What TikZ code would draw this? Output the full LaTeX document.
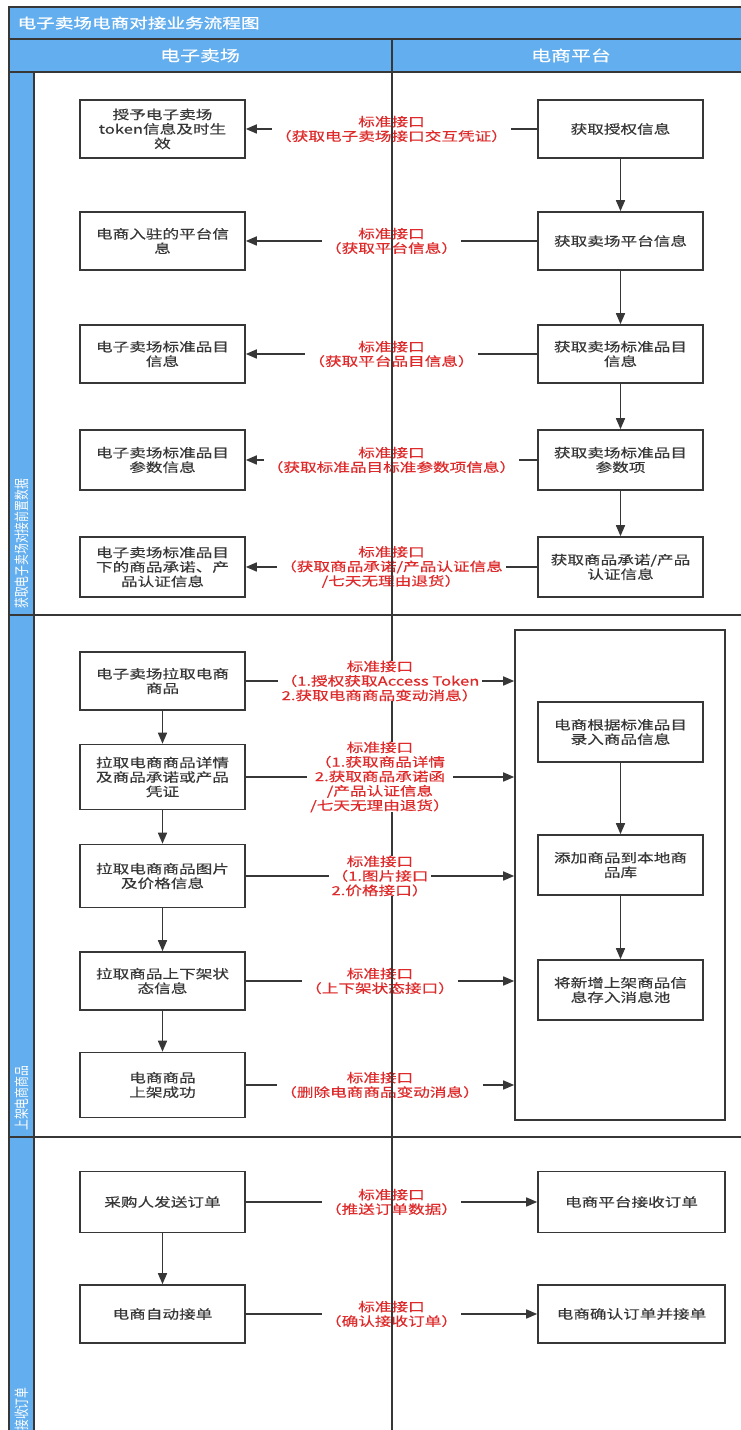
\documentclass[tikz,border=0pt]{standalone}
\usepackage{fontspec}
\setmainfont[FakeStretch=1.33,FakeBold=0.35]{Noto Sans CJK SC}
\newfontfamily\titlefont[FakeStretch=1.33,FakeBold=1.2]{Noto Sans CJK SC}
\newfontfamily\lanefont[FakeStretch=0.72]{Noto Sans CJK SC}
\usetikzlibrary{arrows.meta}
\definecolor{laneblue}{RGB}{98,174,238}
\definecolor{ifred}{RGB}{222,42,42}
\definecolor{inkgray}{RGB}{55,55,55}
\tikzset{
  frame/.style={
    draw=inkgray,
    line width=1.6pt
  },
  lane label/.style={
    rotate=90,
    anchor=west,
    inner sep=0pt,
    text=white,
    font=\lanefont\fontsize{15}{15}\selectfont
  },
}
\tikzstyle{block} = [rectangle, draw=inkgray, line width=1.6pt, minimum width=165pt, minimum height=58pt, align=center, text=inkgray, inner sep=2pt, font=\fontsize{12.5}{14.5}\selectfont]
\tikzstyle{pool} = [rectangle, draw=inkgray, line width=1.6pt, minimum width=210pt, minimum height=490pt]
\tikzstyle{iface} = [fill=white, text=ifred, align=center, inner xsep=3pt, inner ysep=0pt, font=\fontsize{12.5}{14.5}\selectfont]
\tikzstyle{arrow} = [draw=inkgray, line width=1.6pt, ->, >={Triangle[length=11pt,width=9pt]}]

\begin{document}
\begin{tikzpicture}[x=1pt, y=1pt, node distance=112pt]
        \useasboundingbox (0,0) rectangle (741,1430);
        % frame
        \fill [laneblue] (9,1423) rectangle (752,1358);
        \fill [laneblue] (9,1358) rectangle (34,-2);
        \draw [frame] (9,1423) rectangle (752,1391);
        \draw [frame] (9,1391) rectangle (752,1358);
        \draw [frame] (9,1358) -- (9,-2);
        \draw [frame] (34,1358) -- (34,-2);
        \draw [frame] (9,815) -- (752,815);
        \draw [frame] (9,293) -- (752,293);
        \draw [frame] (392,1391) -- (392,-2);

        % headers
        \node [anchor=west, text=white, font=\titlefont\fontsize{14}{14}\selectfont] (title) at (14,1407) {电子卖场电商对接业务流程图};
        \node [text=white, font=\fontsize{15}{15}\selectfont] (market) at (200,1374.5) {电子卖场};
        \node [text=white, font=\fontsize{15}{15}\selectfont] (platform) at (571,1374.5) {电商平台};
        \node [lane label] (prep) at (21.5,821) {获取电子卖场对接前置数据};
        \node [lane label] (listing) at (21.5,299) {上架电商商品};
        \node [lane label] (orders) at (21.5,-1) {接收订单};

        % lane 1 blocks
        \node [block] (grant) at (162.5,1301) {授予电子卖场\\token信息及时生\\效};
        \node [block, below of=grant] (joininfo) {电商入驻的平台信\\息};
        \node [block, below of=joininfo, yshift=-1pt] (catinfo) {电子卖场标准品目\\信息};
        \node [block, below of=catinfo, yshift=6pt, minimum height=60pt] (paraminfo) {电子卖场标准品目\\参数信息};
        \node [block, below of=paraminfo, yshift=5pt, minimum height=60pt] (certinfo) {电子卖场标准品目\\下的商品承诺、产\\品认证信息};
        \node [block] (getauth) at (620.5,1301) {获取授权信息};
        \node [block, below of=getauth] (getplat) {获取卖场平台信息};
        \node [block, below of=getplat, yshift=-1pt] (getcat) {获取卖场标准品目\\信息};
        \node [block, below of=getcat, yshift=6pt, minimum height=60pt] (getparam) {获取卖场标准品目\\参数项};
        \node [block, below of=getparam, yshift=5pt, minimum height=60pt] (getcert) {获取商品承诺/产品\\认证信息};

        % lane 2 blocks
        \node [block] (pull) at (162.5,749) {电子卖场拉取电商\\商品};
        \node [block, below of=pull, yshift=16pt, minimum height=65pt] (detail) {拉取电商商品详情\\及商品承诺或产品\\凭证};
        \node [block, below of=detail, yshift=13pt, minimum height=63pt] (picture) {拉取电商商品图片\\及价格信息};
        \node [block, below of=picture, yshift=7pt] (shelf) {拉取商品上下架状\\态信息};
        \node [block, below of=shelf, yshift=8pt, minimum height=65pt] (online) {电商商品\\上架成功};
        \node [pool] (store) at (620,555) {};
        \node [block, minimum height=60pt] (entry) at (620.5,698) {电商根据标准品目\\录入商品信息};
        \node [block, below of=entry, yshift=-21pt, minimum height=60pt] (addlocal) {添加商品到本地商\\品库};
        \node [block, below of=addlocal, yshift=-13pt, minimum height=60pt] (msgpool) {将新增上架商品信\\息存入消息池};

        % lane 3 blocks
        \node [block, minimum height=61pt] (send) at (162.5,228) {采购人发送订单};
        \node [block, below of=send, minimum height=58pt] (autoaccept) {电商自动接单};
        \node [block, minimum width=187pt, minimum height=61pt] (receive) at (631.5,228) {电商平台接收订单};
        \node [block, below of=receive, minimum width=187pt, minimum height=58pt] (confirm) {电商确认订单并接单};

        % arrows
        \draw [arrow] (getauth) -- node [iface] (if1) {标准接口\\（获取电子卖场接口交互凭证）} (grant);
        \draw [arrow] (getplat) -- node [iface] (if2) {标准接口\\（获取平台信息）} (joininfo);
        \draw [arrow] (getcat) -- node [iface] (if3) {标准接口\\（获取平台品目信息）} (catinfo);
        \draw [arrow] (getparam) -- node [iface] (if4) {标准接口\\（获取标准品目标准参数项信息）} (paraminfo);
        \draw [arrow] (getcert) -- node [iface] (if5) {标准接口\\（获取商品承诺/产品认证信息\\/七天无理由退货）} (certinfo);
        \draw [arrow] (getauth) -- (getplat);
        \draw [arrow] (getplat) -- (getcat);
        \draw [arrow] (getcat) -- (getparam);
        \draw [arrow] (getparam) -- (getcert);

        \draw [arrow] (pull) -- node [iface] (if6) {标准接口\\（1.授权获取Access Token\\2.获取电商商品变动消息）} (pull -| store.west);
        \draw [arrow] (detail) -- node [iface] (if7) {标准接口\\（1.获取商品详情\\2.获取商品承诺函\\/产品认证信息\\/七天无理由退货）} (detail -| store.west);
        \draw [arrow] (picture) -- node [iface] (if8) {标准接口\\（1.图片接口\\2.价格接口）} (picture -| store.west);
        \draw [arrow] (shelf) -- node [iface] (if9) {标准接口\\（上下架状态接口）} (shelf -| store.west);
        \draw [arrow] (online) -- node [iface] (if10) {标准接口\\（删除电商商品变动消息）} (online -| store.west);
        \draw [arrow] (pull) -- (detail);
        \draw [arrow] (detail) -- (picture);
        \draw [arrow] (picture) -- (shelf);
        \draw [arrow] (shelf) -- (online);
        \draw [arrow] (entry) -- (addlocal);
        \draw [arrow] (addlocal) -- (msgpool);

        \draw [arrow] (send) -- node [iface] (if11) {标准接口\\（推送订单数据）} (receive);
        \draw [arrow] (autoaccept) -- node [iface] (if12) {标准接口\\（确认接收订单）} (confirm);
        \draw [arrow] (send) -- (autoaccept);

        % divider over the labels
        \draw [frame] (392,1358) -- (392,815);
        \draw [frame] (if8.south -| 392,0) -- (392,-2);
\end{tikzpicture}
\end{document}
